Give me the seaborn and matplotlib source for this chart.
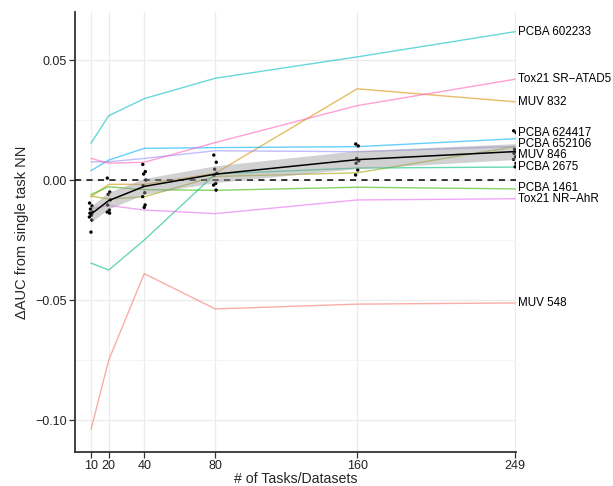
import numpy as np
import pandas as pd
import seaborn as sns
import matplotlib
matplotlib.use("Agg")
import matplotlib.pyplot as plt

# number of tasks used in training
n_tasks = [10, 20, 40, 80, 160, 249]

# per-dataset change in AUC
datasets = ["MUV 548", "MUV 832", "MUV 846", "PCBA 1461", "PCBA 2675",
            "PCBA 602233", "PCBA 624417", "PCBA 652106",
            "Tox21 NR\u2212AhR", "Tox21 SR\u2212ATAD5"]
muv_548 = [-0.104, -0.075, -0.039, -0.0537, -0.0517, -0.0512]
muv_832 = [-0.007, -0.0018, -0.0018, 0.0028, 0.038, 0.0326]
muv_846 = [-0.0067, -0.0079, -0.007, 0.0015, 0.003, 0.0139]
pcba_1461 = [-0.006, -0.0028, -0.004, -0.0043, -0.003, -0.0037]
pcba_2675 = [-0.0346, -0.0375, -0.025, 0.0025, 0.005, 0.0054]
pcba_602233 = [0.0153, 0.0268, 0.0339, 0.0424, 0.0513, 0.0618]
pcba_624417 = [0.0039, 0.0083, 0.0132, 0.0135, 0.0139, 0.0172]
pcba_652106 = [0.0076, 0.0076, 0.009, 0.0122, 0.0118, 0.014]
tox21_ahr = [-0.012, -0.0106, -0.0125, -0.014, -0.0083, -0.0078]
tox21_atad5 = [0.009, 0.007, 0.0074, 0.0156, 0.031, 0.042]

# individual runs (black dots)
runs_10 = [-0.0096, -0.0108, -0.0121, -0.0133, -0.0138, -0.0146, -0.0154, -0.0167, -0.0217]
runs_20 = [0.0008, -0.005, -0.006, -0.0083, -0.0104, -0.0125, -0.0133, -0.0138]
runs_40 = [0.0065, 0.0035, 0.0025, 0.0, -0.0024, -0.0053, -0.0069, -0.0104, -0.0114]
runs_80 = [0.0104, 0.0074, 0.0045, 0.0028, 0.0021, -0.0014, -0.0021, -0.0042]
runs_160 = [0.015, 0.0142, 0.009, 0.008, 0.007, 0.0042, 0.0021]
runs_249 = [0.0205, 0.0197, 0.0128, 0.0118, 0.0111, 0.0097, 0.0086, 0.007, 0.0055]

series = [muv_548, muv_832, muv_846, pcba_1461, pcba_2675, pcba_602233,
          pcba_624417, pcba_652106, tox21_ahr, tox21_atad5]
runs = [runs_10, runs_20, runs_40, runs_80, runs_160, runs_249]

df = pd.DataFrame([(name, x, v) for name, vals in zip(datasets, series)
                   for x, v in zip(n_tasks, vals)],
                  columns=["dataset", "tasks", "dauc"])
dots = pd.DataFrame([(x, v) for x, vals in zip(n_tasks, runs) for v in vals],
                    columns=["tasks", "dauc"])

# ggplot-like hue palette
palette = ["#F8766D", "#D89000", "#A3A500", "#39B600", "#00BF7D",
           "#00BFC4", "#00B0F6", "#9590FF", "#E76BF3", "#FF62BC"]

sns.set_theme(style="white")
plt.rcParams["font.family"] = ["Liberation Sans", "DejaVu Sans"]

fig = plt.figure(figsize=(6.13, 4.86), dpi=100)
ax = fig.add_axes([75 / 613, 34 / 486, 441 / 613, 440 / 486])

ax.set_xlim(1, 249.5)
ax.set_ylim(-0.1133, 0.07)
ax.set_xticks(n_tasks)
ax.set_yticks([-0.10, -0.05, 0.0, 0.05])
ax.set_yticks([-0.075, -0.025, 0.025], minor=True)
ax.grid(True, which="major", color="#EBEBEB", lw=0.9)
ax.grid(True, which="minor", axis="y", color="#F4F4F4", lw=0.7)
ax.set_axisbelow(True)

sns.lineplot(data=df, x="tasks", y="dauc", hue="dataset", palette=palette,
             alpha=0.6, lw=1.0, legend=False, ax=ax)

ax.axhline(0, color="black", lw=1.1, ls=(0, (4, 3.5)), zorder=3)

# small jitter so stacked runs stay visible
jit = dots.groupby("tasks").cumcount().map(lambda i: [-0.8, 0.6, -0.3, 0.9, -0.6, 0.3, -0.9, 0.5, 0.0][i % 9])
sns.scatterplot(x=dots["tasks"] + jit, y=dots["dauc"], color="black", s=6,
                edgecolor="none", ax=ax, zorder=4)

# mean of runs with a 95% band from the pooled spread
stats = dots.groupby("tasks")["dauc"].agg(["mean", "count"]).reset_index()
resid = dots["dauc"] - dots.groupby("tasks")["dauc"].transform("mean")
pooled_sd = np.sqrt((resid ** 2).sum() / (len(dots) - len(stats)))
half = 1.96 * pooled_sd / np.sqrt(stats["count"])
ax.fill_between(stats["tasks"], stats["mean"] - half, stats["mean"] + half,
                color="#999999", alpha=0.45, lw=0, zorder=4.5)
sns.lineplot(data=dots, x="tasks", y="dauc", color="black", lw=1.1,
             errorbar=None, ax=ax, zorder=5)

# end labels, spread apart like a repel
ends = np.array([s[-1] for s in series])
order = np.argsort(-ends)
pos = ends[order].copy()
gap = 0.0045
for _ in range(300):
    for i in range(len(pos) - 1):
        d = pos[i] - pos[i + 1]
        if d < gap:
            shift = (gap - d) / 2
            pos[i] += shift
            pos[i + 1] -= shift
for k, idx in enumerate(order):
    ax.text(250.5, pos[k], datasets[idx], fontsize=8.4, va="center", ha="left",
            color="black", clip_on=False)

for side in ["top", "right"]:
    ax.spines[side].set_visible(False)
for side in ["left", "bottom"]:
    ax.spines[side].set_color("#333333")
    ax.spines[side].set_linewidth(1.3)
ax.tick_params(axis="both", which="major", length=4, width=0.9, color="#333333",
               labelsize=9, labelcolor="#222222", bottom=True, left=True, pad=2)
ax.tick_params(axis="y", which="minor", length=0)

ax.set_xlabel("# of Tasks/Datasets", fontsize=10.2, labelpad=0)
ax.set_ylabel("\u0394AUC from single task NN", fontsize=10.5, labelpad=4)

fig.savefig("out.png", dpi=100)
